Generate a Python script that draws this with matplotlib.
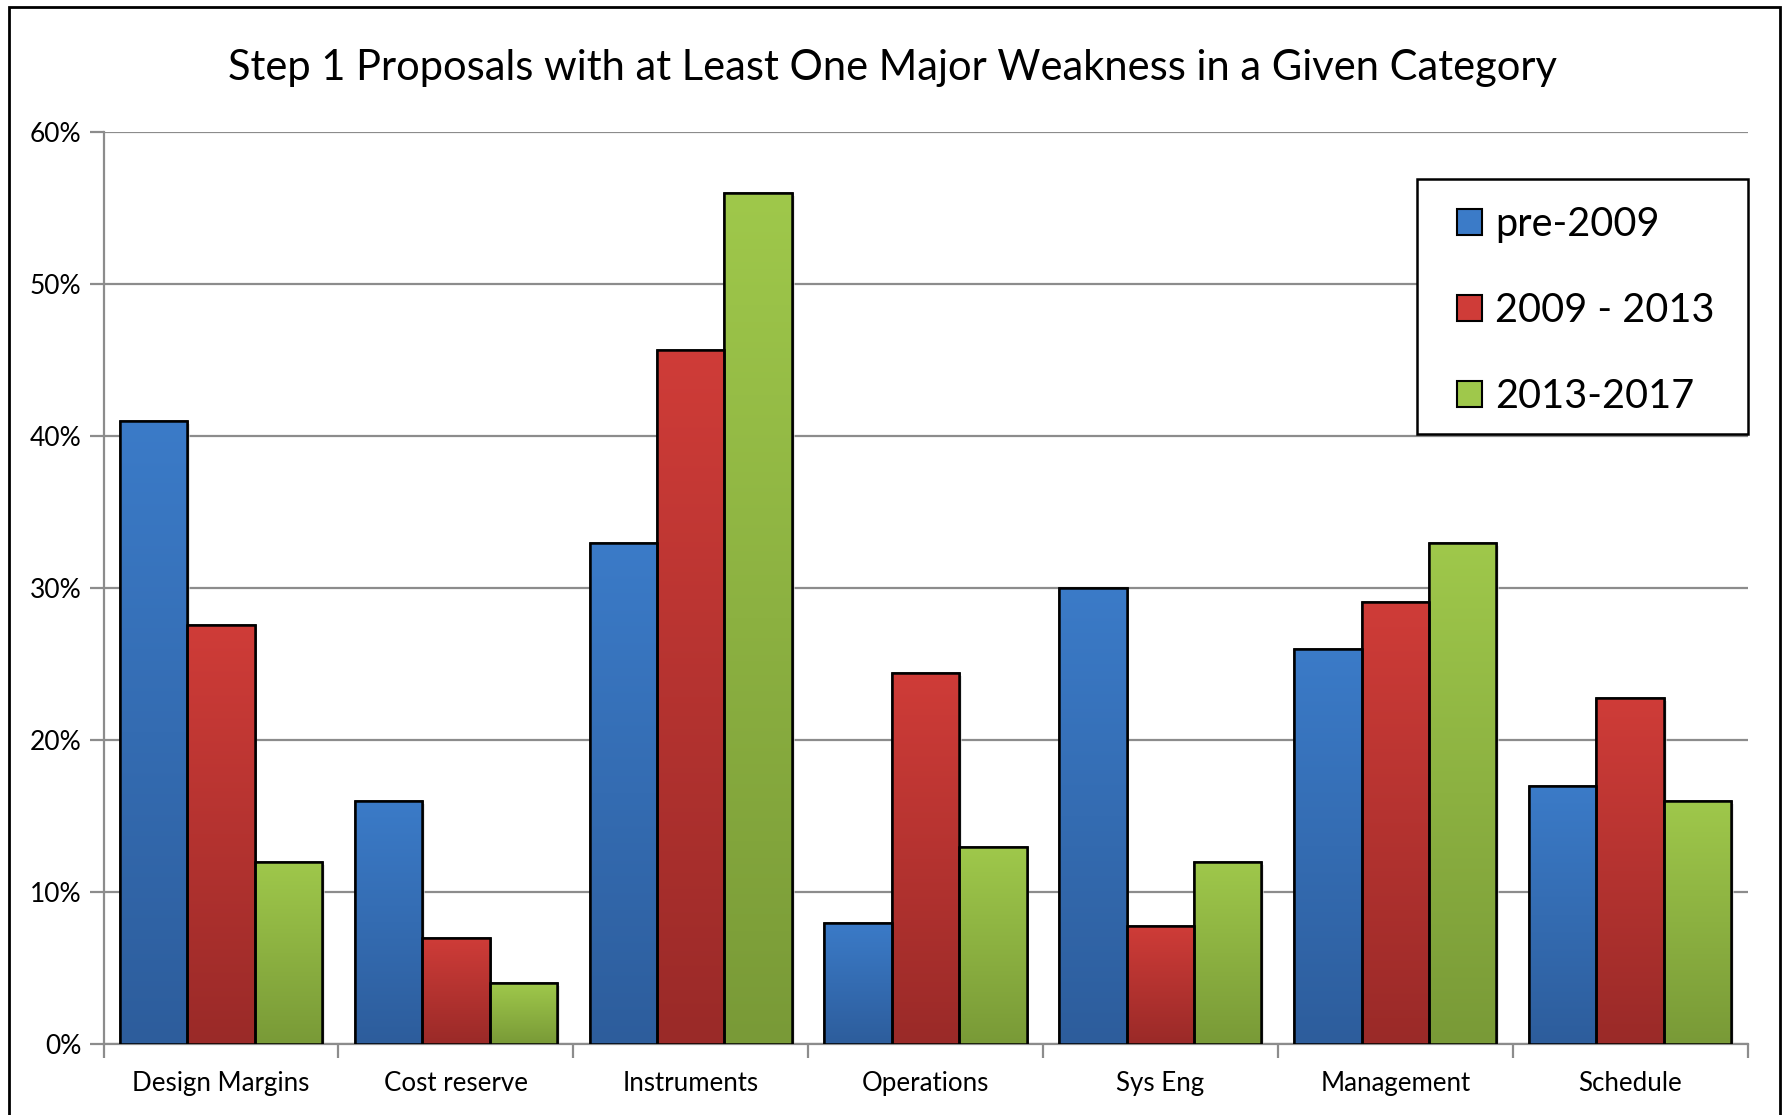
import numpy as np
import matplotlib.pyplot as plt
import matplotlib.patches as patches
from matplotlib.colors import LinearSegmentedColormap

plt.rcParams['font.family'] = ['Lato', 'DejaVu Sans']

categories = ["Design Margins", "Cost reserve", "Instruments", "Operations",
              "Sys Eng", "Management", "Schedule"]
series = ["pre-2009", "2009 - 2013", "2013-2017"]
pre_2009 = [41, 16, 33, 8, 30, 26, 17]
y2009_2013 = [27.6, 7.0, 45.7, 24.4, 7.8, 29.1, 22.8]
y2013_2017 = [12, 4, 56, 13, 12, 33, 16]
y_ticks = [0, 10, 20, 30, 40, 50, 60]

# top / bottom colour of each series gradient
grad_colors = [("#3b7bc8", "#2d5d9c"),
               ("#cf3c38", "#9a2a28"),
               ("#9fc84b", "#799a37")]

fig = plt.figure(figsize=(17.85, 11.15), dpi=100)
ax = fig.add_axes([0.058, 0.0635, 0.921, 0.818])

width = 0.287
offsets = [-width, 0, width]
x = np.arange(len(categories))

grad = np.linspace(0, 1, 256).reshape(-1, 1)
for values, off, (top_c, bot_c), name in zip([pre_2009, y2009_2013, y2013_2017],
                                             offsets, grad_colors, series):
    cmap = LinearSegmentedColormap.from_list(name, [bot_c, top_c])
    bars = ax.bar(x + off, values, width, color=top_c, edgecolor="black",
                  linewidth=1.8, zorder=3, label=name)
    for b in bars:
        x0, w, h = b.get_x(), b.get_width(), b.get_height()
        # soft shadow on the right of each bar
        ax.add_patch(patches.Rectangle((x0 + w, 0), 0.012, h - 0.2,
                                       color="#d9d9d9", alpha=0.6, zorder=2,
                                       linewidth=0))
        im = ax.imshow(grad, cmap=cmap, origin="lower", aspect="auto",
                       extent=(x0, x0 + w, 0, h), zorder=3.5)
        im.set_clip_path(b)
        edge = patches.Rectangle((x0, 0), w, h, fill=False, edgecolor="black",
                                 linewidth=1.8, zorder=4)
        ax.add_patch(edge)

ax.set_xlim(-0.5, len(categories) - 0.5)
ax.set_ylim(0, 60)
ax.set_yticks(y_ticks)
ax.set_yticklabels([f"{v}%" for v in y_ticks], fontsize=19)
ax.yaxis.grid(True, color="#8c8c8c", linewidth=1.6, zorder=0)
ax.set_axisbelow(True)

ax.set_xticks(x)
ax.set_xticklabels(categories, fontsize=18.6)
ax.set_xticks(np.arange(-0.5, len(categories)), minor=True)
ax.tick_params(axis="x", which="major", length=0, pad=19)
ax.tick_params(axis="x", which="minor", length=10, width=1.6, color="#8c8c8c")
ax.tick_params(axis="y", length=10, width=1.6, color="#8c8c8c", pad=6)

for s in ["top", "right"]:
    ax.spines[s].set_visible(False)
for s in ["left", "bottom"]:
    ax.spines[s].set_color("#8c8c8c")
    ax.spines[s].set_linewidth(1.6)

# legend box drawn separately so its padding can be set freely
ax.add_patch(patches.Rectangle((0.799, 0.669), 0.201, 0.28, transform=ax.transAxes,
                               facecolor="white", edgecolor="black",
                               linewidth=1.8, zorder=9, clip_on=False))
leg = ax.legend(loc="upper left", bbox_to_anchor=(0.8234, 0.9195), fontsize=28.5,
                frameon=False, handlelength=0.63, handleheight=0.63,
                handletextpad=0.32, labelspacing=1.24, borderpad=0,
                borderaxespad=0)
leg.set_zorder(10)
for h, (top_c, bot_c) in zip(leg.legend_handles, grad_colors):
    h.set_facecolor(top_c)
    h.set_edgecolor("black")
    h.set_linewidth(1.5)

fig.text(0.5, 0.939, "Step 1 Proposals with at Least One Major Weakness in a Given Category",
         ha="center", va="center", fontsize=30)

fig.patches.append(patches.Rectangle((0.005, -0.01), 0.992, 1.004,
                                     transform=fig.transFigure, fill=False,
                                     edgecolor="black", linewidth=2))

fig.savefig("out.png", dpi=100)
